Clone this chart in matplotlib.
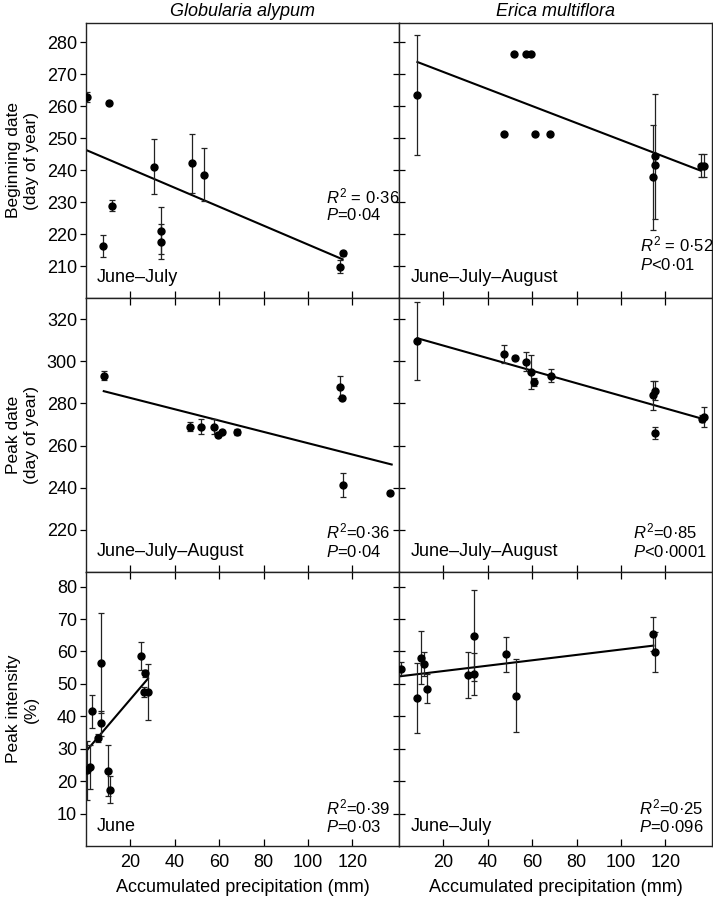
import matplotlib
matplotlib.use("Agg")
import matplotlib.pyplot as plt

plt.rcParams['font.family'] = ['Liberation Sans', 'DejaVu Sans']
plt.rcParams['mathtext.fontset'] = 'custom'
plt.rcParams['mathtext.it'] = 'Liberation Sans:italic'
plt.rcParams['mathtext.rm'] = 'Liberation Sans'

# ---------------- data ----------------
species = ["Globularia alypum", "Erica multiflora"]
row_labels = ["Beginning date\n(day of year)", "Peak date\n(day of year)", "Peak intensity\n(%)"]
x_ticks = [20, 40, 60, 80, 100, 120]
y_ticks_begin = [210, 220, 230, 240, 250, 260, 270, 280]
y_ticks_peak = [220, 240, 260, 280, 300, 320]
y_ticks_int = [10, 20, 30, 40, 50, 60, 70, 80]

# Globularia - beginning date
ga_begin_x = [0.6, 10.4, 11.7, 7.8, 30.8, 34.0, 34.0, 47.9, 53.2, 114.4, 115.6]
ga_begin_y = [262.8, 261.1, 228.8, 216.2, 241.1, 221.1, 217.6, 242.1, 238.5, 209.8, 214.0]
ga_begin_e = [1.5, 0.6, 1.7, 3.4, 8.5, 7.3, 5.5, 9.2, 8.3, 2.0, 0.8]
ga_begin_line_x = [0.0, 115.6]
ga_begin_line_y = [246.3, 212.1]

# Erica - beginning date
em_begin_x = [8.3, 52.0, 57.1, 59.3, 47.2, 61.1, 68.0, 115.2, 115.4, 114.2, 136.0, 137.5]
em_begin_y = [263.5, 276.4, 276.4, 276.4, 251.2, 251.2, 251.2, 244.3, 241.5, 237.7, 241.4, 241.4]
em_begin_e = [18.7, 0, 0, 0, 0, 0, 0, 19.5, 0, 16.4, 3.5, 3.5]
em_begin_line_x = [8.3, 136.0]
em_begin_line_y = [273.8, 239.8]

# Globularia - peak date
ga_peak_x = [8.0, 47.0, 52.0, 57.5, 59.5, 61.4, 68.2, 114.4, 115.5, 115.6, 137.1]
ga_peak_y = [293.1, 269.0, 269.0, 269.0, 265.2, 266.5, 266.5, 287.7, 282.4, 241.3, 237.6]
ga_peak_e = [2.2, 2.2, 3.6, 3.6, 1.0, 1.0, 1.5, 5.2, 1.0, 5.8, 1.0]
ga_peak_line_x = [8.0, 137.7]
ga_peak_line_y = [285.8, 251.0]

# Erica - peak date
em_peak_x = [8.3, 47.2, 52.1, 57.1, 59.5, 60.9, 68.3, 114.5, 115.5, 115.5, 136.3, 137.5]
em_peak_y = [309.6, 303.6, 301.6, 299.8, 294.8, 290.2, 293.2, 283.8, 286.1, 266.0, 272.8, 273.5]
em_peak_e = [18.4, 4.3, 1.0, 4.6, 8.1, 2.0, 2.9, 6.9, 4.6, 2.8, 1.5, 4.7]
em_peak_line_x = [8.3, 136.3]
em_peak_line_y = [310.9, 272.8]

# Globularia - peak intensity
ga_int_x = [0.5, 1.7, 2.9, 5.6, 6.9, 6.9, 10.1, 11.0, 24.8, 26.8, 26.1, 27.9]
ga_int_y = [23.3, 24.3, 41.5, 33.3, 56.4, 37.8, 23.2, 17.4, 58.6, 53.2, 47.5, 47.5]
ga_int_e = [9.2, 6.7, 5.0, 1.3, 15.5, 3.9, 7.8, 4.1, 4.3, 1.0, 1.6, 8.6]
ga_int_line_x = [0.5, 27.9]
ga_int_line_y = [29.6, 51.6]

# Erica - peak intensity
em_int_x = [0.9, 8.2, 10.1, 11.3, 12.4, 31.1, 34.0, 34.0, 48.1, 52.9, 114.3, 115.4]
em_int_y = [54.7, 45.6, 58.1, 56.0, 48.5, 52.6, 64.9, 53.0, 59.1, 46.4, 65.3, 59.9]
em_int_e = [2.1, 10.9, 8.2, 3.7, 4.4, 7.1, 13.9, 6.5, 5.3, 11.2, 5.3, 6.1]
em_int_line_x = [0.0, 114.6]
em_int_line_y = [52.3, 61.8]

period_labels = [["June\u2013July", "June\u2013July\u2013August"],
                 ["June\u2013July\u2013August", "June\u2013July\u2013August"],
                 ["June", "June\u2013July"]]
stat_r2 = [["$R^2$ = 0\u00b736", "$R^2$ = 0\u00b752"],
           ["$R^2$=0\u00b736", "$R^2$=0\u00b785"],
           ["$R^2$=0\u00b739", "$R^2$=0\u00b725"]]
stat_p = [["$P$=0\u00b704", "$P$<0\u00b701"],
          ["$P$=0\u00b704", "$P$<0\u00b70001"],
          ["$P$=0\u00b703", "$P$=0\u00b7096"]]

panels = [
    [(ga_begin_x, ga_begin_y, ga_begin_e, ga_begin_line_x, ga_begin_line_y),
     (em_begin_x, em_begin_y, em_begin_e, em_begin_line_x, em_begin_line_y)],
    [(ga_peak_x, ga_peak_y, ga_peak_e, ga_peak_line_x, ga_peak_line_y),
     (em_peak_x, em_peak_y, em_peak_e, em_peak_line_x, em_peak_line_y)],
    [(ga_int_x, ga_int_y, ga_int_e, ga_int_line_x, ga_int_line_y),
     (em_int_x, em_int_y, em_int_e, em_int_line_x, em_int_line_y)],
]
ylims = [(200, 286), (200, 330), (0, 84.5)]
yticks = [y_ticks_begin, y_ticks_peak, y_ticks_int]

# ---------------- layout ----------------
W, H = 713, 899
fig = plt.figure(figsize=(W / 100, H / 100), dpi=100)

col_px = [(86, 399), (399, 712)]
row_px = [(23, 298), (298, 572), (572, 846)]

period_pos = [[(0.035, 0.073), (0.038, 0.076)],
              [(0.035, 0.073), (0.038, 0.073)],
              [(0.035, 0.070), (0.038, 0.070)]]
r2_pos = [[(0.767, 0.371), (0.770, 0.196)],
          [(0.767, 0.147), (0.748, 0.147)],
          [(0.767, 0.140), (0.767, 0.140)]]
p_pos = [[(0.767, 0.302), (0.770, 0.120)],
         [(0.767, 0.073), (0.748, 0.073)],
         [(0.767, 0.070), (0.767, 0.070)]]

FS_TICK = 13
FS_TXT = 13
FS_STAT = 12
FS_YLAB = 12.5

for r in range(3):
    for c in range(2):
        x0, x1 = col_px[c]
        y0, y1 = row_px[r]
        ax = fig.add_axes([x0 / W, 1 - y1 / H, (x1 - x0) / W, (y1 - y0) / H])
        xs, ys, es, lx, ly = panels[r][c]
        ax.errorbar(xs, ys, yerr=es, fmt='o', color='black', ms=5,
                    ecolor='#222222', elinewidth=0.9, capsize=2.2, capthick=0.9,
                    zorder=3)
        ax.plot(lx, ly, color='black', lw=1.5, zorder=2)
        ax.set_xlim(0, 141)
        ax.set_ylim(*ylims[r])
        ax.set_xticks(x_ticks)
        ax.set_yticks(yticks[r])
        for sp in ax.spines.values():
            sp.set_linewidth(1.0)
            sp.set_color('#222222')
        ax.tick_params(axis='x', direction='in', length=5, width=0.9,
                       top=(r > 0), bottom=True, labelbottom=(r == 2),
                       labelsize=FS_TICK, pad=6)
        if c == 0:
            ax.tick_params(axis='y', direction='out', length=4.5, width=0.9,
                           left=True, right=False, labelleft=True,
                           labelsize=FS_TICK, pad=2)
        else:
            ax.tick_params(axis='y', direction='inout', length=8.5, width=0.9,
                           left=True, right=False, labelleft=False)
        px, py = period_pos[r][c]
        ax.text(px, py, period_labels[r][c], transform=ax.transAxes,
                ha='left', va='center', fontsize=FS_TXT)
        rx, ry = r2_pos[r][c]
        ax.text(rx, ry, stat_r2[r][c], transform=ax.transAxes,
                ha='left', va='center', fontsize=FS_STAT)
        qx, qy = p_pos[r][c]
        ax.text(qx, qy, stat_p[r][c], transform=ax.transAxes,
                ha='left', va='center', fontsize=FS_STAT)

for c in range(2):
    x0, x1 = col_px[c]
    fig.text((x0 + x1) / 2 / W, 1 - 11 / H, species[c], ha='center', va='center',
             fontsize=FS_TXT, style='italic')
    fig.text((x0 + x1) / 2 / W, 1 - 887 / H, "Accumulated precipitation (mm)",
             ha='center', va='center', fontsize=FS_TXT)

for r in range(3):
    y0, y1 = row_px[r]
    fig.text(22.5 / W, 1 - (y0 + y1) / 2 / H, row_labels[r], rotation=90,
             ha='center', va='center', fontsize=FS_YLAB, multialignment='center',
             linespacing=1.2)

fig.savefig("out.png", dpi=100)
